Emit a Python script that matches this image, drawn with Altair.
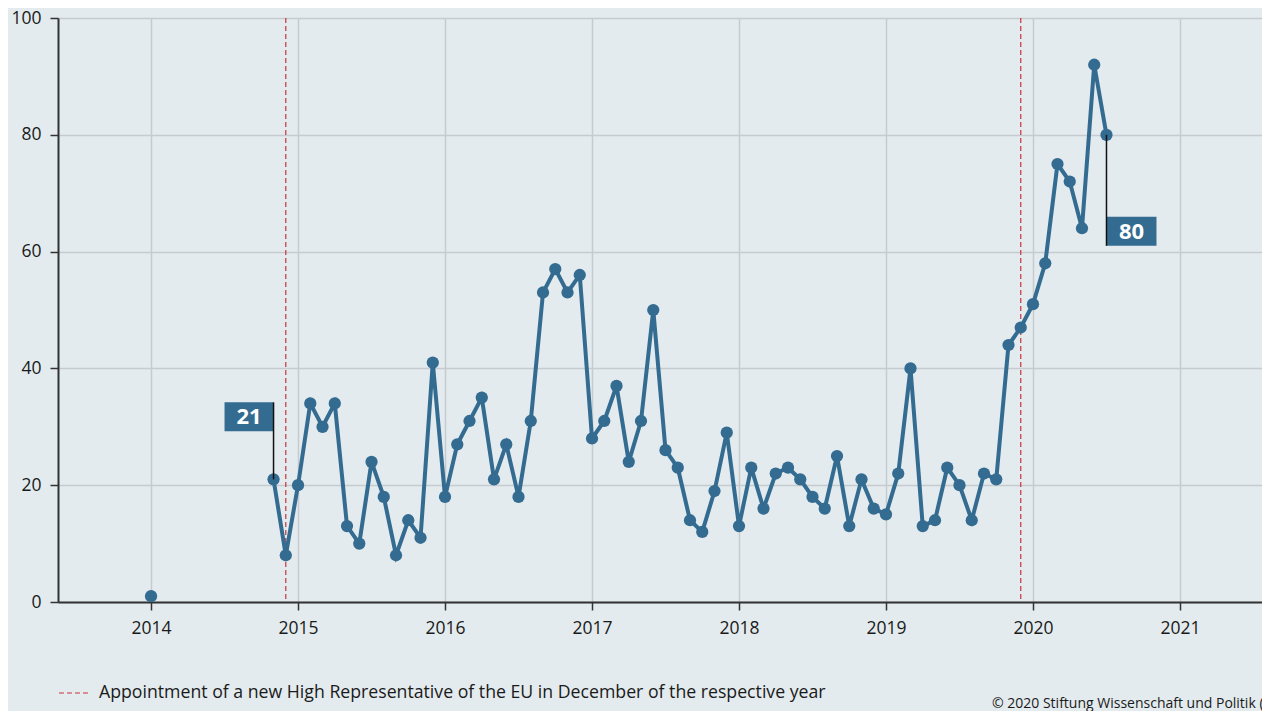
import altair as alt
import pandas as pd

# ---------------- data ----------------
isolated_months = ["2014-01"]
isolated_values = [1]

series_months = pd.period_range("2014-11", "2020-07", freq="M").strftime("%Y-%m").tolist()
series_values = [21, 8,
                 20, 34, 30, 34, 13, 10, 24, 18, 8, 14, 11, 41,
                 18, 27, 31, 35, 21, 27, 18, 31, 53, 57, 53, 56,
                 28, 31, 37, 24, 31, 50, 26, 23, 14, 12, 19, 29,
                 13, 23, 16, 22, 23, 21, 18, 16, 25, 13, 21, 16,
                 15, 22, 40, 13, 14, 23, 20, 14, 22, 21, 44, 47,
                 51, 58, 75, 72, 64, 92, 80]

appointment_months = ["2014-12", "2019-12"]
appointment_label = "Appointment of a new High Representative of the EU in December of the respective year"

year_ticks = [2014, 2015, 2016, 2017, 2018, 2019, 2020, 2021]
value_ticks = [0, 20, 40, 60, 80, 100]
copyright_text = ["© 2020 Stiftung Wissenschaft und Politik (SWP)"]


def dec_year(m):
    y, mo = m.split("-")
    return int(y) + (int(mo) - 1) / 12.0


df_main = pd.DataFrame({"x": [dec_year(m) for m in series_months], "value": series_values})
df_iso = pd.DataFrame({"x": [dec_year(m) for m in isolated_months], "value": isolated_values})
df_all = pd.concat([df_iso, df_main], ignore_index=True)
df_rules = pd.DataFrame({"x": [dec_year(m) for m in appointment_months],
                         "label": [appointment_label] * len(appointment_months)})
df_first = df_main.iloc[[0]]
df_last = df_main.iloc[[-1]]
df_copy = pd.DataFrame({"t": copyright_text})

# ---------------- styling ----------------
FONT = "Open Sans"
BLUE = "#346b91"
RED = "#c8323c"
BG = "#e3ebee"
TXT = "#1a1a1a"

xscale = alt.Scale(domain=[2013.367, 2021.558], nice=False, zero=False)
yscale = alt.Scale(domain=[0, 100], nice=False, zero=True)
xaxis = alt.Axis(values=year_ticks, format="d", title=None, labelFlush=False,
                 labelOverlap=False, grid=True)
yaxis = alt.Axis(values=value_ticks, title=None, grid=True)

X = alt.X("x:Q", scale=xscale, axis=xaxis)
Y = alt.Y("value:Q", scale=yscale, axis=yaxis)

rules = alt.Chart(df_rules).mark_rule(strokeDash=[5, 3], strokeWidth=1.2).encode(
    x=X,
    color=alt.Color("label:N", scale=alt.Scale(range=[RED]),
                    legend=alt.Legend(orient="none", legendX=0, legendY=659, title=None,
                                      symbolType="stroke", symbolSize=900,
                                      symbolStrokeWidth=1.2, symbolDash=[5, 3],
                                      labelFont=FONT, labelFontSize=17.7, labelColor=TXT,
                                      labelLimit=0, labelOffset=9, padding=0)),
)

line = alt.Chart(df_main).mark_line(color=BLUE, strokeWidth=4).encode(x=X, y=Y)
points = alt.Chart(df_all).mark_circle(color=BLUE, size=150, opacity=1).encode(x=X, y=Y)

# flag for the first value (box to the upper left)
f1_rect = alt.Chart(df_first).mark_rect(color=BLUE, xOffset=-49, x2Offset=0,
                                        yOffset=-77, y2Offset=-48).encode(
    x=X, x2="x:Q", y=Y, y2="value:Q")
f1_rule = alt.Chart(df_first).mark_rule(color="#111111", strokeWidth=1.5, y2Offset=-77).encode(
    x=X, y=Y, y2="value:Q")
f1_text = alt.Chart(df_first).mark_text(color="white", font=FONT, fontSize=22, fontWeight="bold",
                                        align="center", baseline="middle",
                                        dx=-24.5, dy=-62).encode(
    x=X, y=Y, text=alt.Text("value:Q", format="d"))

# flag for the last value (box to the lower right)
f2_rect = alt.Chart(df_last).mark_rect(color=BLUE, xOffset=0, x2Offset=50,
                                       yOffset=82, y2Offset=111).encode(
    x=X, x2="x:Q", y=Y, y2="value:Q")
f2_rule = alt.Chart(df_last).mark_rule(color="#111111", strokeWidth=1.5, y2Offset=111).encode(
    x=X, y=Y, y2="value:Q")
f2_text = alt.Chart(df_last).mark_text(color="white", font=FONT, fontSize=22, fontWeight="bold",
                                       align="center", baseline="middle",
                                       dx=25, dy=97).encode(
    x=X, y=Y, text=alt.Text("value:Q", format="d"))

copy_note = alt.Chart(df_copy).mark_text(align="left", baseline="middle", font=FONT,
                                         fontSize=14, color=TXT).encode(
    text="t:N", x=alt.value(934), y=alt.value(686))

chart = alt.layer(
    rules, line, points, f1_rect, f1_rule, f1_text, f2_rect, f2_rule, f2_text, copy_note
).properties(
    width=1204, height=584,
    autosize=alt.AutoSizeParams(type="none"),
    padding={"left": 50, "top": 10, "right": 0, "bottom": 109},
    background=BG,
).configure(font=FONT).configure_view(stroke=None).configure_axis(
    domainColor="#333333", domainWidth=2, tickColor="#333333", tickWidth=1.5, tickSize=8,
    labelFont=FONT, labelFontSize=17.5, labelColor=TXT, labelPadding=9,
    gridColor="#c5cbce", gridWidth=1.5,
)

chart.save("out.html", embed_options={"renderer": "svg", "actions": False})
